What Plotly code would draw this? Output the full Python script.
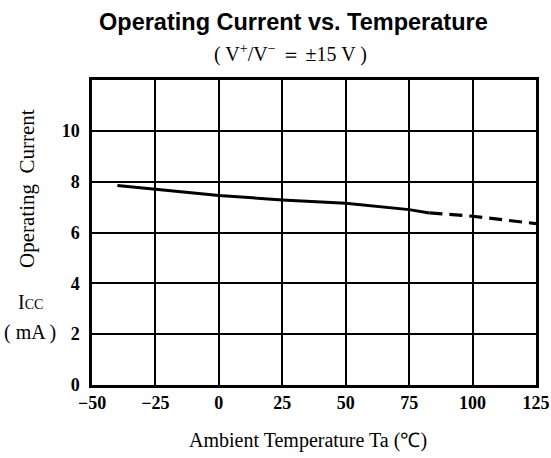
import plotly.graph_objects as go

# Data
solid_x = [-40, -25, 0, 25, 50, 75, 83]
solid_y = [7.85, 7.70, 7.46, 7.28, 7.15, 6.90, 6.77]
dash_x = [83, 100, 125]
dash_y = [6.77, 6.64, 6.35]

x_ticks = [-50, -25, 0, 25, 50, 75, 100, 125]
x_labels = ["−50", "−25", "0", "25", "50", "75", "100", "125"]
y_ticks = [0, 2, 4, 6, 8, 10]
y_labels = ["0", "2", "4", "6", "8", "10"]

serif = "Liberation Serif, Times New Roman, serif"

W, H = 551, 458
L, R, T, B = 92, 15, 80, 73
PW, PH = W - L - R, H - T - B


def px(x):
    return (x - L) / PW


def py(y):
    return (H - B - y) / PH


def ann(text, x, y, size, family=serif, angle=0):
    return dict(text=text, x=px(x), y=py(y), xref="paper", yref="paper",
                xanchor="center", yanchor="middle", showarrow=False, textangle=angle,
                font=dict(family=family, size=size, color="black"))


fig = go.Figure()
fig.add_trace(go.Scatter(x=solid_x, y=solid_y, mode="lines",
                         line=dict(color="black", width=3), showlegend=False))
fig.add_trace(go.Scatter(x=dash_x, y=dash_y, mode="lines",
                         line=dict(color="black", width=3.2, dash="13px,7px"), showlegend=False))

tickfont = dict(family=serif, size=18, color="black", weight="bold")

fig.update_layout(
    width=W, height=H,
    margin=dict(l=L, r=R, t=T, b=B, autoexpand=False),
    paper_bgcolor="white", plot_bgcolor="white",
    xaxis=dict(range=[-50, 125], tickvals=x_ticks, ticktext=x_labels,
               showgrid=True, gridcolor="black", gridwidth=1.5,
               showline=True, linecolor="black", linewidth=2.5, mirror=True,
               zeroline=False, ticks="", ticklabelstandoff=0, tickfont=tickfont,
               automargin=False),
    yaxis=dict(range=[0, 12], tickvals=y_ticks, ticktext=y_labels,
               showgrid=True, gridcolor="black", gridwidth=1.5,
               showline=True, linecolor="black", linewidth=2.5, mirror=True,
               zeroline=False, ticks="", ticklabelstandoff=6, tickfont=tickfont,
               automargin=False),
    annotations=[
        ann("<b>Operating Current vs. Temperature</b>", 293, 22, 23.5,
            family="Liberation Sans, Arial, sans-serif"),
        ann("( V<sup>+</sup>/V<sup>−</sup> ＝ ±15 V )", 290, 54, 20),
        ann("Operating  Current", 27, 189, 21, angle=-90),
        ann("I<span style='font-size:14px'>CC</span>", 30, 302, 20),
        ann("( mA )", 30, 332, 20),
        ann("Ambient Temperature Ta (℃)", 308, 440, 20),
    ],
)

fig.write_html("out.html", config={"displayModeBar": False},
               post_script="document.body.style.margin='0';")
